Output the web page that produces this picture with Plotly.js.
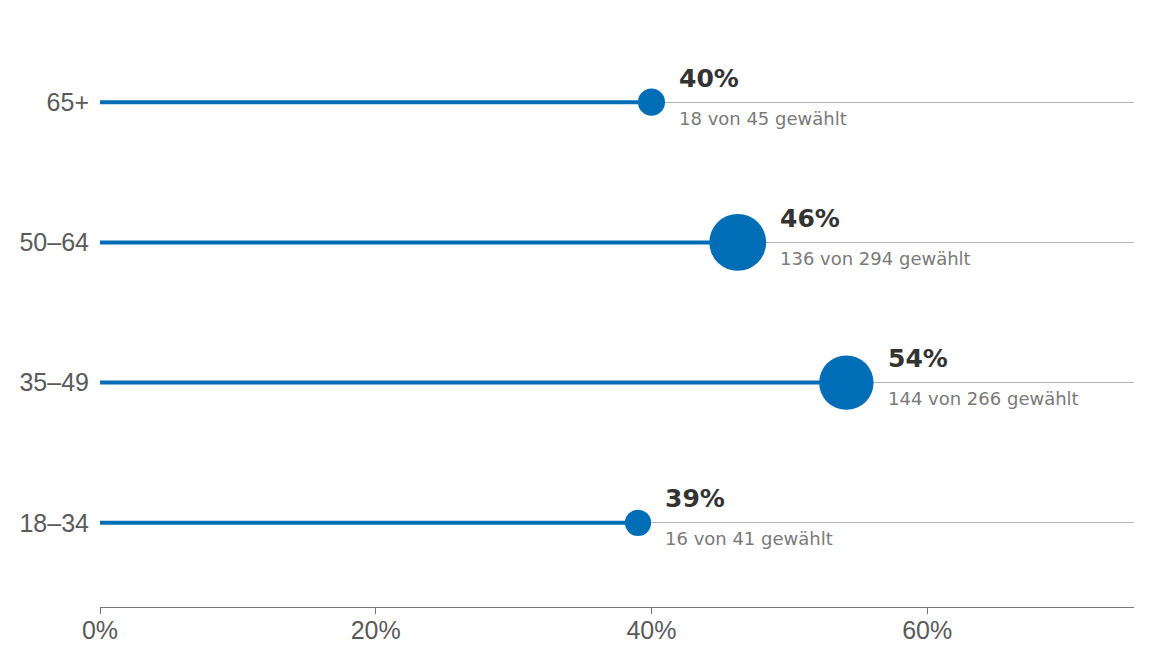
<!DOCTYPE html>
<html>
<head>
<meta charset="utf-8">
<script src="https://cdn.plot.ly/plotly-3.0.1.min.js"></script>
<style>
  html, body { margin: 0; padding: 0; background: #fff; }
  #chart { width: 1152px; height: 660px; }
</style>
</head>
<body>
<div id="chart"></div>
<script>
/******************** DATA ********************/
const ageGroups = ["18–34", "35–49", "50–64", "65+"];
const elected   = [16, 144, 136, 18];
const running   = [41, 266, 294, 45];
const xTicks    = [0, 20, 40, 60];

const BLUE = "#006eb6";

// share elected in percent
const shares = elected.map((e, i) => 100 * e / running[i]);

// dot diameter grows with the number of candidates (sqrt scale)
const dotSize = running.map(n => 8 + 2.85 * Math.sqrt(n));

/******************** TRACES ********************/
// blue stems from 0 to the share, separated by nulls
const stemX = [], stemY = [];
ageGroups.forEach((g, i) => {
  stemX.push(0, shares[i], null);
  stemY.push(g, g, null);
});

const stems = {
  x: stemX,
  y: stemY,
  mode: "lines",
  type: "scatter",
  line: { color: BLUE, width: 4 },
  hoverinfo: "skip"
};

const dots = {
  x: shares,
  y: ageGroups,
  mode: "markers",
  type: "scatter",
  cliponaxis: false,
  marker: { size: dotSize, color: BLUE, opacity: 1, line: { width: 0 } },
  hoverinfo: "skip"
};

/******************** LABELS ********************/
const annotations = [];
ageGroups.forEach((g, i) => {
  const shift = dotSize[i] / 2 + 12;
  annotations.push({
    x: shares[i], y: g, xref: "x", yref: "y",
    text: "<b>" + Math.round(shares[i]) + "%</b>",
    showarrow: false, xanchor: "left", yanchor: "middle",
    xshift: shift, yshift: 24,
    font: { family: "DejaVu Sans", size: 25, color: "#333333" }
  });
  annotations.push({
    x: shares[i], y: g, xref: "x", yref: "y",
    text: elected[i] + " von " + running[i] + " gewählt",
    showarrow: false, xanchor: "left", yanchor: "middle",
    xshift: shift, yshift: -16,
    font: { family: "DejaVu Sans", size: 18, color: "#7a7a7a" }
  });
});

/******************** LAYOUT ********************/
const layout = {
  width: 1152,
  height: 660,
  margin: { l: 100, r: 18, t: 18, b: 53 },
  paper_bgcolor: "#ffffff",
  plot_bgcolor: "#ffffff",
  showlegend: false,
  font: { family: "Liberation Sans, Arial, sans-serif", color: "#555555" },
  xaxis: {
    range: [0, 75],
    tickmode: "array",
    tickvals: xTicks,
    ticktext: xTicks.map(t => t + "%"),
    showgrid: false,
    zeroline: false,
    showline: true,
    linecolor: "#777777",
    linewidth: 1,
    ticks: "outside",
    ticklen: 6,
    tickcolor: "#777777",
    ticklabelstandoff: -5,
    tickfont: { size: 25, color: "#5a5a5a" },
    fixedrange: true
  },
  yaxis: {
    type: "category",
    categoryarray: ageGroups,
    range: [-0.6, 3.6],
    showgrid: true,
    gridcolor: "#b4b4b4",
    gridwidth: 1,
    zeroline: false,
    showline: false,
    ticks: "",
    ticklabelstandoff: 10,
    tickfont: { size: 25, color: "#5a5a5a" },
    fixedrange: true
  },
  annotations: annotations
};

Plotly.newPlot("chart", [stems, dots], layout, { displayModeBar: false, staticPlot: true });
</script>
</body>
</html>
